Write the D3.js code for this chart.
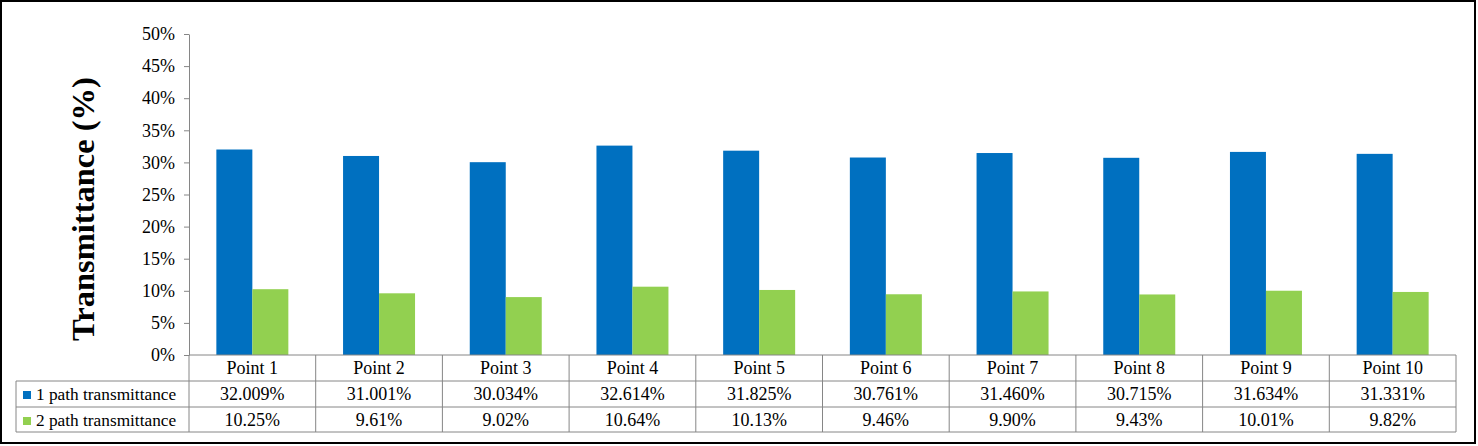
<!DOCTYPE html>
<html>
<head>
<meta charset="utf-8">
<script src="https://cdn.jsdelivr.net/npm/d3@7"></script>
<style>
    body { margin: 0; background: #fff; }
</style>
</head>
<body>
<svg id="chart" width="1478" height="446"></svg>
<script>
// Transmittance per measuring point
const points = ["Point 1", "Point 2", "Point 3", "Point 4", "Point 5",
                "Point 6", "Point 7", "Point 8", "Point 9", "Point 10"];
const seriesNames = ["1 path transmittance", "2 path transmittance"];
const onePath = [32.009, 31.001, 30.034, 32.614, 31.825, 30.761, 31.460, 30.715, 31.634, 31.331];
const twoPath = [10.25, 9.61, 9.02, 10.64, 10.13, 9.46, 9.90, 9.43, 10.01, 9.82];
const onePathLabels = ["32.009%", "31.001%", "30.034%", "32.614%", "31.825%",
                       "30.761%", "31.460%", "30.715%", "31.634%", "31.331%"];
const twoPathLabels = ["10.25%", "9.61%", "9.02%", "10.64%", "10.13%",
                       "9.46%", "9.90%", "9.43%", "10.01%", "9.82%"];
const yTicks = [0, 5, 10, 15, 20, 25, 30, 35, 40, 45, 50];
const colors = ["#0070C0", "#92D050"];

const FONT = '"Liberation Serif", "Times New Roman", Times, serif';
const svg = d3.select('#chart');
const lineColor = '#868686';

// outer frame
svg.append('rect')
    .attr('x', 1).attr('y', 1)
    .attr('width', 1474).attr('height', 442)
    .attr('fill', '#fff')
    .attr('stroke', '#000')
    .attr('stroke-width', 2);

// scales
const x = d3.scaleBand().domain(points).range([189, 1456]);
const x1 = d3.scaleBand().domain(seriesNames).range([0, x.bandwidth()]).paddingOuter(0.76);
const y = d3.scaleLinear().domain([0, 50]).range([355, 34]);

// bars
const rows = [onePath, twoPath];
seriesNames.forEach((name, si) => {
    svg.append('g')
        .selectAll('rect')
        .data(points)
        .enter()
        .append('rect')
        .attr('x', (d) => x(d) + x1(name))
        .attr('width', x1.bandwidth())
        .attr('y', (d, i) => y(rows[si][i]))
        .attr('height', (d, i) => y(0) - y(rows[si][i]))
        .attr('fill', colors[si]);
});

// y axis
const yAxis = svg.append('g')
    .attr('transform', 'translate(189,0)')
    .call(d3.axisLeft(y)
        .tickValues(yTicks)
        .tickFormat(d => d + '%')
        .tickSize(5)
        .tickSizeOuter(0)
        .tickPadding(9));
yAxis.selectAll('path, line').attr('stroke', lineColor);
yAxis.selectAll('text')
    .style('font-family', FONT)
    .style('font-size', '18px')
    .attr('fill', '#000');

// axis title
svg.append('text')
    .attr('transform', 'translate(94,209) rotate(-90)')
    .attr('text-anchor', 'middle')
    .style('font-family', FONT)
    .style('font-size', '32.5px')
    .style('font-weight', 'bold')
    .text('Transmittance (%)');

// data table
const rowTop = [355, 381, 407];
const rowH = 26;
const table = svg.append('g');

// horizontal lines
table.append('line').attr('x1', 189).attr('x2', 1456).attr('y1', 355).attr('y2', 355);
[381, 407, 432].forEach(yy => {
    table.append('line').attr('x1', 16).attr('x2', 1456).attr('y1', yy).attr('y2', yy);
});
// vertical lines
table.append('line').attr('x1', 16).attr('x2', 16).attr('y1', 381).attr('y2', 432);
points.concat([null]).forEach((p) => {
    const xx = p === null ? 1456 : x(p);
    table.append('line').attr('x1', xx).attr('x2', xx).attr('y1', 355).attr('y2', 432);
});
table.selectAll('line').attr('stroke', lineColor).attr('stroke-width', 1);

// category labels
table.selectAll('.cat')
    .data(points)
    .enter()
    .append('text')
    .attr('class', 'cat')
    .attr('x', d => x(d) + x.bandwidth() / 2)
    .attr('y', rowTop[0] + rowH / 2 + 6)
    .attr('text-anchor', 'middle')
    .style('font-family', FONT)
    .style('font-size', '18px')
    .text(d => d);

// value rows
[onePathLabels, twoPathLabels].forEach((labels, si) => {
    const top = rowTop[si + 1];
    table.append('rect')
        .attr('x', 23).attr('y', top + 10)
        .attr('width', 8).attr('height', 8)
        .attr('fill', colors[si]);
    table.append('text')
        .attr('x', 36)
        .attr('y', top + rowH / 2 + 6)
        .style('font-family', FONT)
        .style('font-size', '17.3px')
        .text(seriesNames[si]);
    table.selectAll('.v' + si)
        .data(labels)
        .enter()
        .append('text')
        .attr('x', (d, i) => x(points[i]) + x.bandwidth() / 2)
        .attr('y', top + rowH / 2 + 6)
        .attr('text-anchor', 'middle')
        .style('font-family', FONT)
        .style('font-size', '18px')
        .text(d => d);
});
</script>
</body>
</html>
